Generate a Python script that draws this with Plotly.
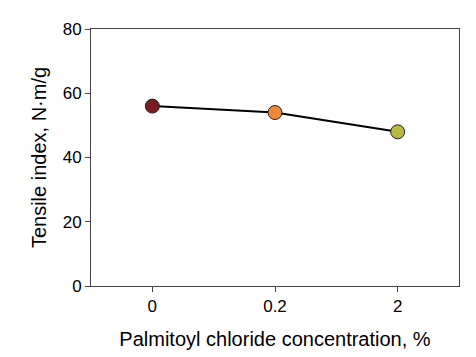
import plotly.graph_objects as go

categories = ["0", "0.2", "2"]
tensile_index = [56, 54, 48]
marker_colors = ["#7a1c22", "#f0883a", "#b8b844"]
y_ticks = [0, 20, 40, 60, 80]

fig = go.Figure()
fig.add_trace(go.Scatter(
    x=categories, y=tensile_index, mode="lines+markers",
    line=dict(color="black", width=2),
    marker=dict(size=14, color=marker_colors, line=dict(color="#222", width=1)),
    showlegend=False,
))

font = dict(family="Liberation Sans, Arial, sans-serif", size=17, color="black")
fig.update_layout(
    width=476, height=357,
    margin=dict(l=83, r=25, t=13, b=79),
    plot_bgcolor="white", paper_bgcolor="white",
    font=font,
)
fig.update_xaxes(
    type="category", range=[-0.5, 2.5],
    showline=True, linecolor="#444", linewidth=1, mirror=True,
    ticks="outside", ticklen=5, tickcolor="#444",
    showgrid=False, zeroline=False,
    title=dict(text="Palmitoyl chloride concentration, %", standoff=16),
)
fig.update_yaxes(
    range=[0, 80], tickvals=y_ticks,
    showline=True, linecolor="#444", linewidth=1, mirror=True,
    ticks="outside", ticklen=5, tickcolor="#444",
    showgrid=False, zeroline=False,
    title=dict(text="Tensile index, N·m/g", standoff=10),
)
fig.write_html("out.html")
